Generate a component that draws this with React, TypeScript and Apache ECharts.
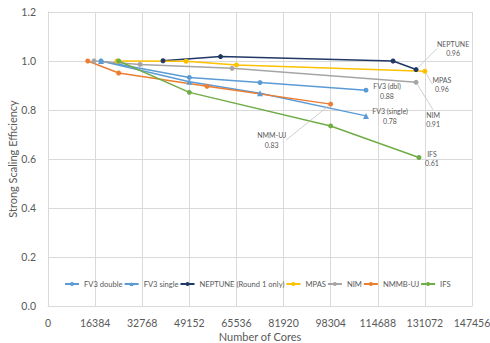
import React, { useEffect, useRef } from "react";
import * as echarts from "echarts";

const xTicks = [0, 16384, 32768, 49152, 65536, 81920, 98304, 114688, 131072, 147456];

const fv3DoubleX = [18432, 49152, 73728, 110592];
const fv3DoubleY = [1.0, 0.933, 0.912, 0.881];
const fv3SingleX = [18432, 49152, 73728, 110592];
const fv3SingleY = [1.0, 0.915, 0.868, 0.776];
const neptuneX = [40000, 60000, 120000, 128000];
const neptuneY = [1.001, 1.018, 1.0, 0.965];
const mpasX = [24000, 48000, 65536, 131072];
const mpasY = [1.0, 0.999, 0.984, 0.958];
const nimX = [16000, 32000, 64000, 128000];
const nimY = [1.0, 0.986, 0.97, 0.913];
const nmmbX = [13824, 24576, 55296, 98304];
const nmmbY = [1.0, 0.951, 0.897, 0.824];
const ifsX = [24576, 49152, 98304, 129000];
const ifsY = [1.0, 0.872, 0.735, 0.606];

const seriesNames = ["FV3 double", "FV3 single", "NEPTUNE (Round 1 only)", "MPAS", "NIM", "NMMB-UJ", "IFS"];
const endLabels = ["FV3 (dbl)\n0.88", "FV3 (single)\n0.78", "NEPTUNE\n0.96", "MPAS\n0.96", "NIM\n0.91", "NMM-UJ\n0.83", "IFS\n0.61"];
const colors = ["#5B9BD5", "#5B9BD5", "#1F3864", "#FFC000", "#A5A5A5", "#ED7D31", "#70AD47"];
const symbols = ["circle", "triangle", "circle", "circle", "circle", "circle", "circle"];
const labelOffsets: [number, number, boolean][] = [
  [21, 1, false],
  [24, 0, false],
  [37, -21, true],
  [17, 13, true],
  [17, 37, true],
  [-59, 36, true],
  [13, 1, false],
];

const FONT = "Lato, 'Open Sans', sans-serif";

export default function App() {
  const ref = useRef<HTMLDivElement>(null);
  useEffect(() => {
    if (!ref.current) return;
    const chart = echarts.init(ref.current, null, { renderer: "svg" });
    const xs = [fv3DoubleX, fv3SingleX, neptuneX, mpasX, nimX, nmmbX, ifsX];
    const ys = [fv3DoubleY, fv3SingleY, neptuneY, mpasY, nimY, nmmbY, ifsY];
    const series = seriesNames.map((name, i) => {
      const data = xs[i].map((x, j) => {
        const item: any = { value: [x, ys[i][j]] };
        if (j === xs[i].length - 1) {
          item.label = {
            show: true,
            formatter: endLabels[i],
            position: "inside",
            align: "center",
            verticalAlign: "middle",
            color: "#595959",
            fontSize: 7,
            lineHeight: 9.5,
            fontFamily: FONT,
          };
        }
        return item;
      });
      return {
        name,
        type: "line",
        data,
        symbol: symbols[i],
        symbolSize: symbols[i] === "triangle" ? 6 : 5,
        itemStyle: { color: colors[i] },
        lineStyle: { color: colors[i], width: 1.5 },
        label: { show: false },
        labelLayout: { dx: labelOffsets[i][0], dy: labelOffsets[i][1] },
        labelLine: {
          show: labelOffsets[i][2],
          lineStyle: { color: "#BFBFBF", width: 0.75 },
        },
        emphasis: { disabled: true },
      };
    });
    chart.setOption({
      animation: false,
      color: colors,
      grid: { left: 48, right: 18, top: 12, bottom: 37, containLabel: false, outerBoundsMode: "none" },
      legend: {
        data: seriesNames,
        top: 275,
        left: 59,
        itemWidth: 14,
        itemHeight: 5,
        itemGap: 1,
        textStyle: { fontSize: 7.6, color: "#595959", fontFamily: FONT },
      },
      xAxis: {
        type: "value",
        min: xTicks[0],
        max: xTicks[xTicks.length - 1],
        interval: xTicks[1] - xTicks[0],
        name: "Number of Cores",
        nameLocation: "middle",
        nameGap: 25,
        nameMoveOverlap: false,
        nameTextStyle: { fontSize: 11, color: "#595959", fontFamily: FONT },
        axisLine: { show: true, lineStyle: { color: "#D9D9D9" } },
        axisTick: { show: false },
        axisLabel: {
          fontSize: 10.5,
          color: "#595959",
          fontFamily: FONT,
          margin: 11,
          hideOverlap: false,
          formatter: (v: number) => String(v),
        },
        splitLine: { show: true, lineStyle: { color: "#D9D9D9", width: 1 } },
      },
      yAxis: {
        type: "value",
        min: 0,
        max: 1.2,
        interval: 0.2,
        name: "Strong Scaling Efficiency",
        nameLocation: "middle",
        nameGap: 30,
        nameMoveOverlap: false,
        nameTextStyle: { fontSize: 11, color: "#595959", fontFamily: FONT },
        axisLine: { show: true, lineStyle: { color: "#D9D9D9" } },
        axisTick: { show: false },
        axisLabel: {
          fontSize: 10.5,
          color: "#595959",
          fontFamily: FONT,
          margin: 12,
          formatter: (v: number) => v.toFixed(1),
        },
        splitLine: { show: true, lineStyle: { color: "#D9D9D9", width: 1 } },
      },
      series,
    });
    return () => chart.dispose();
  }, []);
  return <div ref={ref} style={{ width: 490, height: 343, position: "absolute", left: 0, top: 0, background: "#fff" }} />;
}
